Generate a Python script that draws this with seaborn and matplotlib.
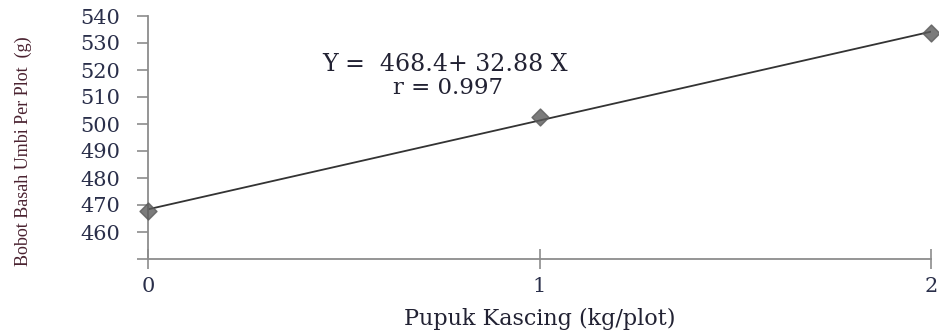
import numpy as np
import pandas as pd
import matplotlib
matplotlib.use("Agg")
import matplotlib.pyplot as plt
import seaborn as sns

# data
dosis = [0, 1, 2]                  # Pupuk Kascing (kg/plot)
bobot = [467.8, 502.5, 533.6]      # Bobot Basah Umbi Per Plot (g)
y_ticks = list(range(450, 541, 10))
y_labels = [""] + [str(v) for v in range(460, 541, 10)]
x_ticks = [0, 1, 2]
persamaan = "Y =  468.4+ 32.88 X"
korelasi = "r = 0.997"

df = pd.DataFrame({"dosis": dosis, "bobot": bobot})

sns.set_theme(style="white")
plt.rcParams["font.family"] = ["DejaVu Serif", "DejaVu Sans"]

fig = plt.figure(figsize=(9.39, 3.33), dpi=100)
ax = fig.add_axes([148 / 939, 1 - 259 / 333, (931 - 148) / 939, (259 - 16) / 333])

sns.regplot(data=df, x="dosis", y="bobot", ci=None, ax=ax, truncate=True,
            marker="D", scatter_kws={"s": 75, "color": "#5a5a5a", "zorder": 3, "clip_on": False},
            line_kws={"color": "#333333", "linewidth": 1.3})

# fitted equation
ax.text(0.444, 521.9, persamaan, fontsize=17, color="#222233",
        va="center", ha="left")
ax.text(0.626, 513.3, korelasi, fontsize=16.5, color="#222233",
        va="center", ha="left")

ax.set_xlim(0, 2)
ax.set_ylim(450, 540)
ax.set_xticks(x_ticks)
ax.set_xticklabels([str(v) for v in x_ticks])
ax.set_yticks(y_ticks)
ax.set_yticklabels(y_labels)

for side in ["top", "right"]:
    ax.spines[side].set_visible(False)
for side in ["left", "bottom"]:
    ax.spines[side].set_color("#8c8c8c")
    ax.spines[side].set_linewidth(1.3)

ax.tick_params(axis="y", direction="out", length=8, width=1.2, color="#8c8c8c",
               labelsize=15, labelcolor="#2a2f4a", pad=12, left=True)
ax.tick_params(axis="x", direction="inout", length=14, width=1.2, color="#8c8c8c",
               labelsize=15, labelcolor="#2a2f4a", pad=6, bottom=True)

ax.set_xlabel("Pupuk Kascing (kg/plot)", fontsize=16, color="#222233")
ax.xaxis.label.set_va("center")
ax.xaxis.set_label_coords(0.5, -0.245)
ax.set_ylabel("Bobot Basah Umbi Per Plot  (g)", fontsize=13, color="#4a2230",
              family="Liberation Serif")
ax.yaxis.set_label_coords(-0.148, 0.442)

fig.savefig("out.png", dpi=100)
